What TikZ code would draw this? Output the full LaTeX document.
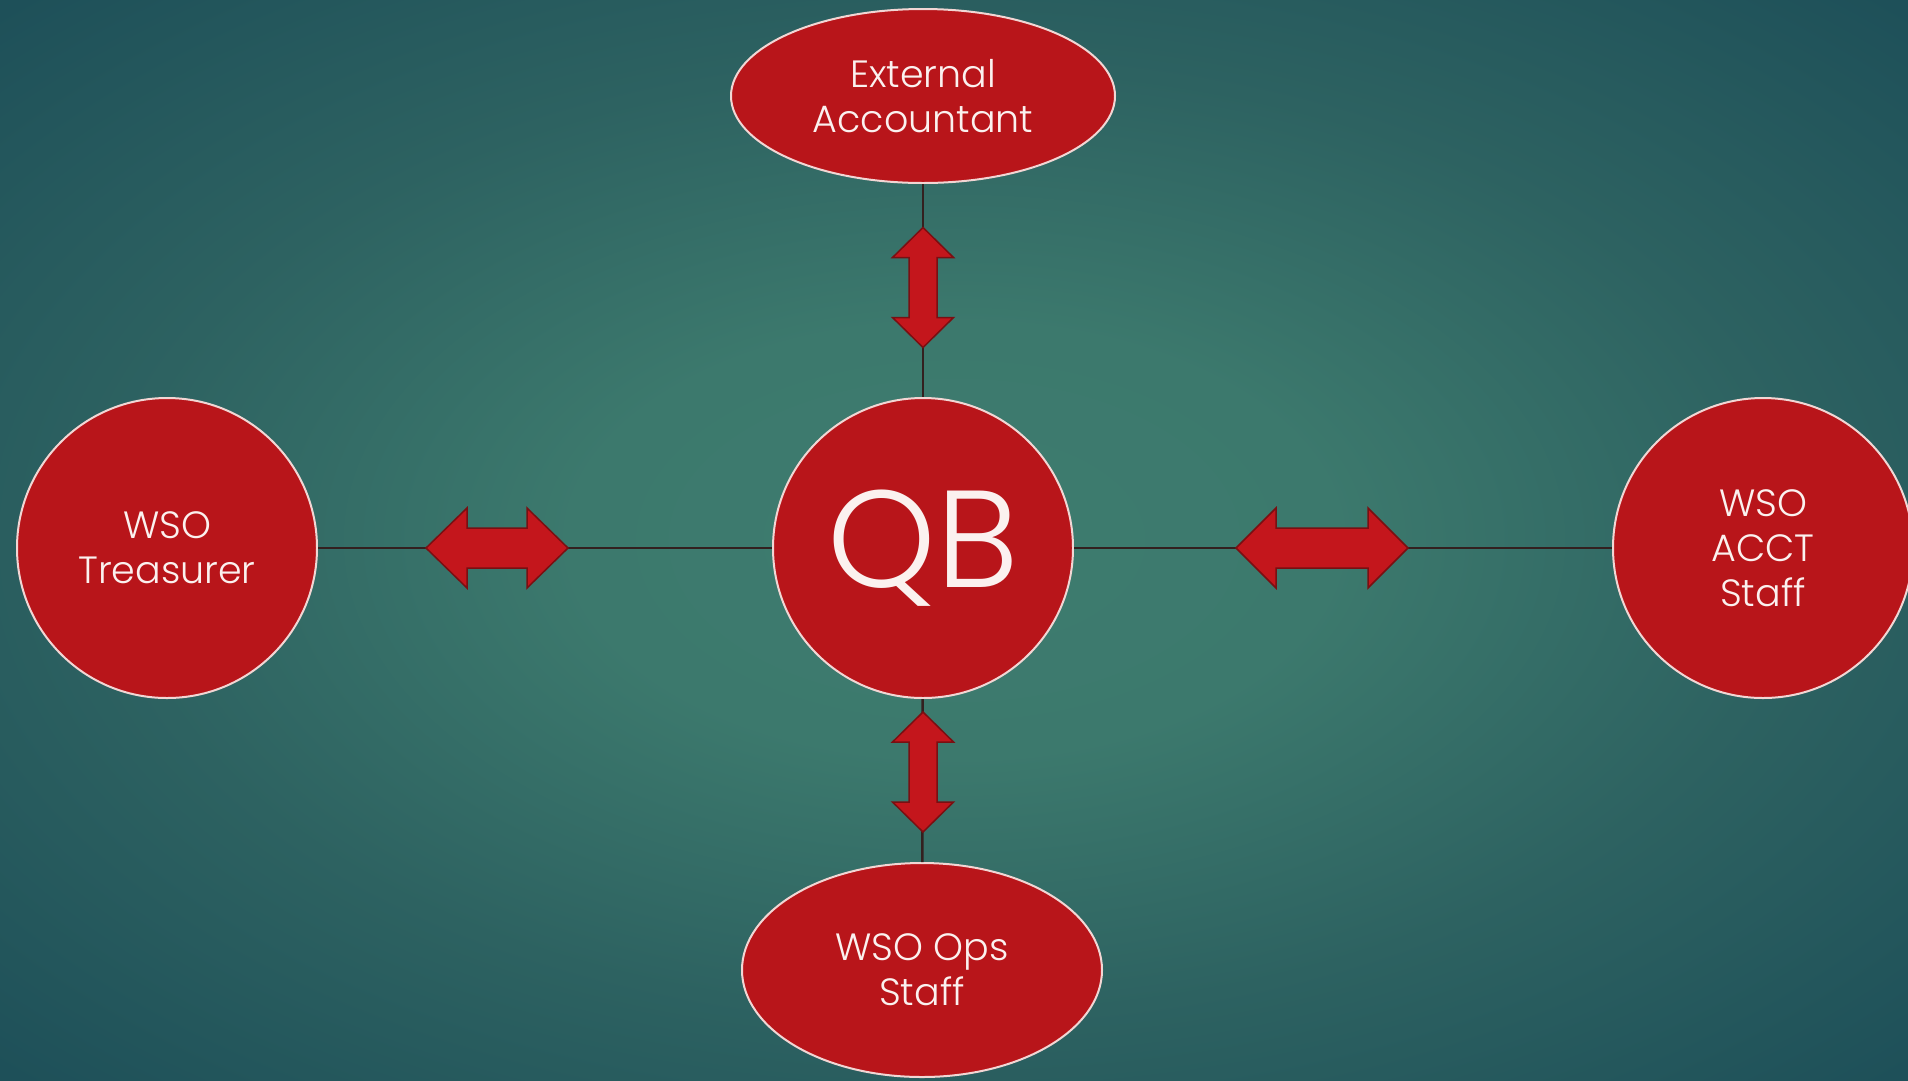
\documentclass[tikz,border=0pt]{standalone}
\usepackage{fontspec}
\setmainfont{Poppins}[UprightFont=* Light]
\usetikzlibrary{shapes.geometric}
\definecolor{nodered}{HTML}{B8151A}
\definecolor{nodeborder}{HTML}{F2D6D4}
\definecolor{arrred}{HTML}{C4161C}
\definecolor{arrborder}{HTML}{7A0F12}
\definecolor{linecol}{HTML}{33201F}
\definecolor{labeltext}{HTML}{FBF1EF}
\pgfdeclareradialshading{bgshade}{\pgfpoint{0bp}{0bp}}{%
  color(0bp)=(rgb,255:red,62;green,124;blue,111);
  color(10bp)=(rgb,255:red,60;green,121;blue,109);
  color(22bp)=(rgb,255:red,45;green,98;blue,97);
  color(35bp)=(rgb,255:red,30;green,80;blue,89);
  color(50bp)=(rgb,255:red,22;green,64;blue,75)}
\newcommand\dblarrowpath[4]{(-#1,0) -- ({-#1+#2},#3) -- ({-#1+#2},#4) -- ({#1-#2},#4) -- ({#1-#2},#3) -- (#1,0) -- ({#1-#2},-#3) -- ({#1-#2},-#4) -- ({-#1+#2},-#4) -- ({-#1+#2},-#3) -- cycle}
\begin{document}
\begin{tikzpicture}[x=1pt,y=-1pt,
  entity/.style={fill=nodered, draw=nodeborder, line width=2pt, text=labeltext, align=center, inner sep=0pt, font=\fontsize{38}{45}\selectfont},
  circnode/.style={entity, circle, minimum size=300pt},
  ovalnode/.style={entity, ellipse},
  link/.style={draw=linecol, line width=2.5pt},
  dblarrow/.style={fill=arrred, draw=arrborder, line width=1.5pt, line join=miter}]
\useasboundingbox (0,0) rectangle (1908,1080);
\shade[shading=bgshade] (0,0) rectangle (1908,1080);

\node[circnode, font=\fontsize{138}{144}\selectfont] (qb) at (923,548) {\raisebox{-4pt}{QB}};
\node[ovalnode, minimum width=384pt, minimum height=174pt] (ext) at (923,96) {External\\Accountant};
\node[circnode] (tre) at (167,548) {WSO\\Treasurer};
\node[circnode] (acct) at (1763,548) {WSO\\ACCT\\Staff};
\node[ovalnode, minimum width=360pt, minimum height=214pt] (ops) at (922,970) {WSO Ops\\Staff};

\draw[link] (tre) -- (qb);
\draw[link] (qb) -- (acct);
\draw[link] (ext) -- (qb);
\draw[link] (qb) -- (ops);

\begin{scope}[shift={(497,548)}]
  \draw[dblarrow] \dblarrowpath{71}{41}{40}{20};
\end{scope}
\begin{scope}[shift={(1322,548)}]
  \draw[dblarrow] \dblarrowpath{86}{40}{40}{20};
\end{scope}
\begin{scope}[shift={(923,287.5)}, rotate=90]
  \draw[dblarrow] \dblarrowpath{60}{30}{30.5}{14};
\end{scope}
\begin{scope}[shift={(923,772)}, rotate=90]
  \draw[dblarrow] \dblarrowpath{60}{30}{30.5}{14};
\end{scope}
\end{tikzpicture}
\end{document}
